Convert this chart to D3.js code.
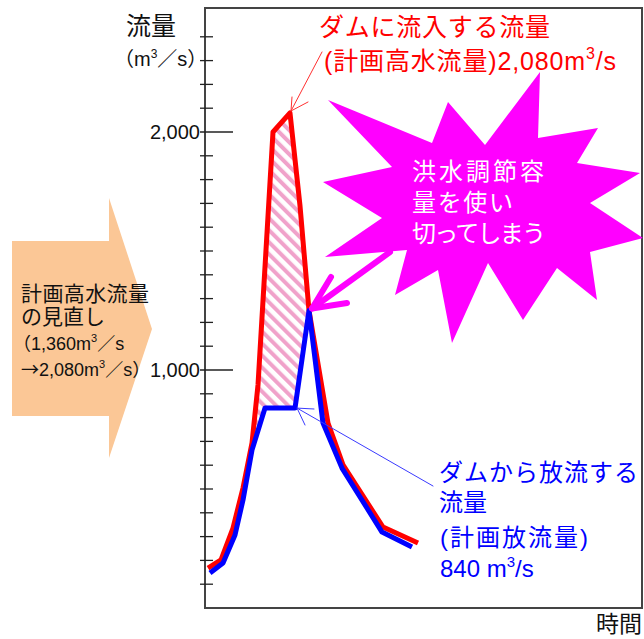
<!DOCTYPE html>
<html><head><meta charset="utf-8">
<script src="https://cdn.jsdelivr.net/npm/d3@7"></script>
<style>body{margin:0;background:#fff}svg{display:block}text{font-family:"Liberation Sans","Noto Sans CJK JP",sans-serif}</style>
</head><body>
<script>
// ---- data ----
const inflowTime = [0.3, 1.6, 2.8, 3.8, 4.7, 5.3, 6.8, 8.5, 9.5, 10.4, 12.3, 13.8, 17.8, 21.3];
const inflowQ    = [168, 202, 336, 504, 693, 937, 2000, 2080, 1690, 1250, 777, 601, 340, 273];
const outflowTime = [0.5, 1.8, 3.0, 3.8, 4.7, 6.0, 9.0, 10.4, 11.8, 13.7, 17.7, 20.7];
const outflowQ    = [147, 189, 307, 454, 664, 840, 840, 1250, 777, 588, 319, 256];
const tickValues = d3.range(100, 2500, 100);
const labelTicks = [1000, 2000];
const tickLabels = ["1,000", "2,000"];

const W = 644, H = 639;
const svg = d3.select("body").append("svg").attr("width", W).attr("height", H);
const x = d3.scaleLinear().domain([0, 43.7]).range([205, 642]);
const y = d3.scaleLinear().domain([0, 2521]).range([608, 8]);

const defs = svg.append("defs");
const pat = defs.append("pattern").attr("id", "hatch").attr("patternUnits", "userSpaceOnUse")
  .attr("width", 8.5).attr("height", 8.5).attr("patternTransform", "rotate(-45)");
pat.append("rect").attr("width", 8.5).attr("height", 8.5).attr("fill", "#fff");
pat.append("line").attr("x1", 2).attr("x2", 2).attr("y1", 0).attr("y2", 8.5)
  .attr("stroke", "#F0A2CA").attr("stroke-width", 4);

// orange arrow
svg.append("polygon")
  .attr("points", [[12,241],[109,241],[109,198],[152,329],[109,458],[109,416],[12,416]].join(" "))
  .attr("fill", "#FBC796");

// frame
svg.append("rect").attr("x", x(0)).attr("y", y.range()[1]).attr("width", x(43.7) - x(0))
  .attr("height", y.range()[0] - y.range()[1]).attr("fill", "none").attr("stroke", "#444").attr("stroke-width", 2);

// ticks
const g = svg.append("g");
g.selectAll("line.t").data(tickValues).join("line").attr("class", "t")
  .attr("x1", x(0) - 5).attr("x2", d => labelTicks.includes(d) ? x(0) + 28 : x(0) + 8)
  .attr("y1", d => y(d)).attr("y2", d => y(d)).attr("stroke", "#222").attr("stroke-width", 1.3);
g.selectAll("text.tl").data(labelTicks).join("text").attr("class", "tl")
  .attr("x", x(0) - 5).attr("y", d => y(d)).attr("dy", "0.36em").attr("text-anchor", "end")
  .attr("font-size", 20).attr("fill", "#111").text((d, i) => tickLabels[i]);

// hatched area between inflow and outflow
const inflow = inflowTime.map((t, i) => [t, inflowQ[i]]);
const outflow = outflowTime.map((t, i) => [t, outflowQ[i]]);
const poly = inflow.filter(d => d[0] >= 4.7 && d[0] <= 10.4)
  .concat(outflow.filter(d => d[0] >= 4.7 && d[0] <= 10.4).reverse());
const lineGen = d3.line().x(d => x(d[0])).y(d => y(d[1]));
svg.append("path").attr("d", lineGen(poly) + "Z").attr("fill", "url(#hatch)");

svg.append("path").attr("d", lineGen(inflow)).attr("fill", "none").attr("stroke", "#FF0000")
  .attr("stroke-width", 5).attr("stroke-linejoin", "round");
svg.append("path").attr("d", lineGen(outflow)).attr("fill", "none").attr("stroke", "#0000FF")
  .attr("stroke-width", 5).attr("stroke-linejoin", "round");

// leader arrows
function leader(x1, y1, tx, ty, a1, a2, color, w) {
  const gg = svg.append("g").attr("stroke", color).attr("stroke-width", w).attr("fill", "none")
    .attr("stroke-linecap", "round").attr("stroke-linejoin", "round");
  gg.append("line").attr("x1", x1).attr("y1", y1).attr("x2", tx).attr("y2", ty);
  gg.append("polyline").attr("points", [a1, [tx, ty], a2].join(" "));
}
const pk = [x(8.5), y(2080)];
leader(322, 52, pk[0] + 1, pk[1] - 2, [292, 97], [308, 102], "#FF3030", 1);
const pl = [x(9.0), y(840)];
leader(433, 486, pl[0] + 2, pl[1], [314, 409], [305, 425], "#3A3AFF", 1);

// star
const star = [[540,72],[538,138],[598,128],[577,163],[640,173],[590,203],[643,238],[590,252],[597,300],
  [557,268],[523,320],[488,263],[452,343],[438,270],[395,295],[407,250],[325,257],[382,218],[323,182],
  [392,167],[328,100],[432,143],[448,102],[485,145]];
svg.append("polygon").attr("points", star.join(" ")).attr("fill", "#FF00FF");
const ip = [x(10.4), y(1250)];
leader(390, 252, ip[0] + 3, ip[1] - 2, [331, 277], [347, 303], "#FF00FF", 6);

// text blocks: each block is one <text>, each line a tspan; "^3" marks a superscript 3
function addRun(parent, str, dy) {
  str.split(/(→)/).filter(s => s.length).forEach((s, k) => {
    const sp = parent.append("tspan").text(s);
    if (s === "→") sp.attr("font-family", "Noto Sans CJK JP");
    if (k === 0 && dy) sp.attr("dy", dy);
  });
}
function block(lines, color, anchor) {
  const t = svg.append("text").attr("fill", color);
  if (anchor) t.attr("text-anchor", anchor);
  lines.forEach(L => {
    const ln = t.append("tspan").attr("x", L.x).attr("y", L.y).attr("font-size", L.size);
    if (L.len) ln.attr("textLength", L.len).attr("lengthAdjust", "spacing");
    const parts = L.s.split("^3");
    const up = Math.round(L.size * 0.42);
    parts.forEach((p, i) => {
      if (i > 0) {
        ln.append("tspan").attr("font-size", Math.round(L.size * 0.62)).attr("dy", -up).text("3");
        addRun(ln, p || "\u200b", up);
      } else if (p) {
        addRun(ln, p, 0);
      }
    });
  });
}
block([{s: "流量", x: 126, y: 35, size: 25},
       {s: "（m^3／s）", x: 114, y: 66, size: 20}], "#111");
block([{s: "ダムに流入する流量", x: 319, y: 36, size: 25, len: 231},
       {s: "(計画高水流量)2,080m^3/s", x: 324, y: 70, size: 25, len: 292}], "#FF0000");
block([{s: "洪水調節容", x: 412, y: 180, size: 24, len: 132},
       {s: "量を使い", x: 412, y: 211, size: 24, len: 101},
       {s: "切ってしまう", x: 412, y: 242, size: 24, len: 134}], "#fff");
block([{s: "計画高水流量", x: 21, y: 301, size: 21, len: 128},
       {s: "の見直し", x: 21, y: 324, size: 21},
       {s: "（1,360m^3／s", x: 13, y: 350, size: 18},
       {s: "→2,080m^3／s）", x: 21, y: 376, size: 18}], "#111");
block([{s: "ダムから放流する", x: 439, y: 481, size: 24, len: 199},
       {s: "流量", x: 439, y: 511, size: 24},
       {s: "(計画放流量)", x: 440, y: 546, size: 24, len: 148},
       {s: "840 m^3/s", x: 440, y: 577, size: 24}], "#0000FF");
block([{s: "時間", x: 642, y: 632, size: 23}], "#111", "end");
</script>
</body></html>
